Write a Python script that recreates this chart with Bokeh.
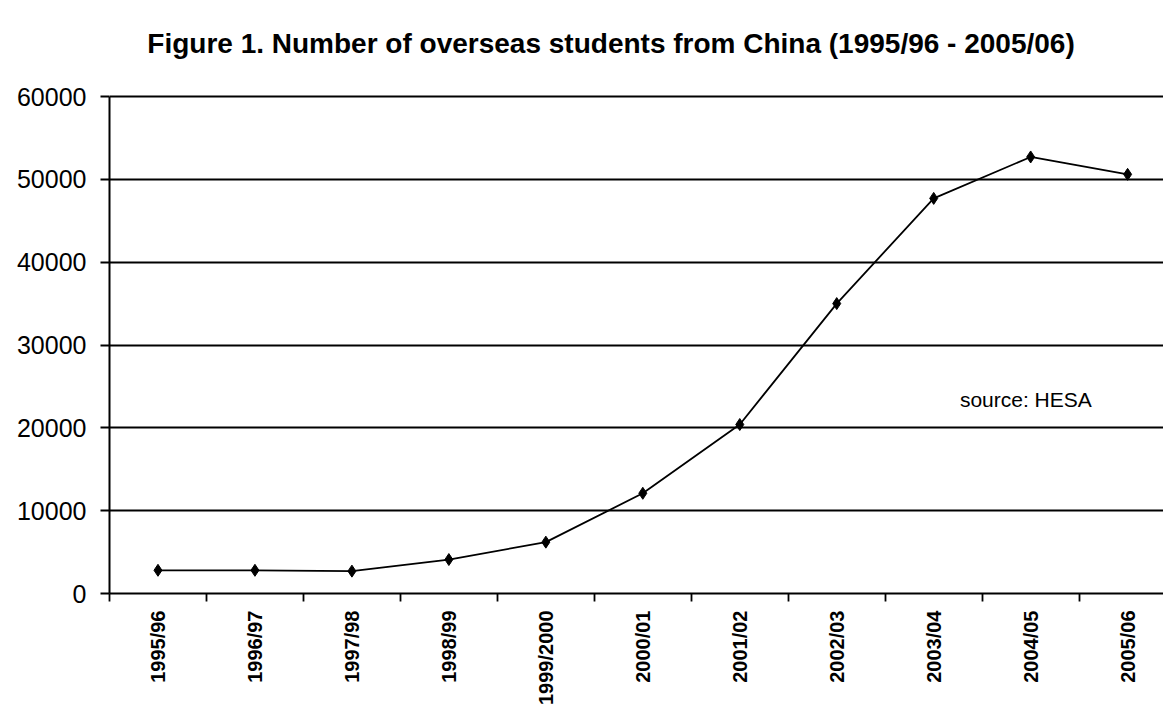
import math
from bokeh.plotting import figure
from bokeh.models import Range1d, FixedTicker, Label, NumeralTickFormatter
from bokeh.embed import file_html
from bokeh.resources import INLINE

years = ["1995/96", "1996/97", "1997/98", "1998/99", "1999/2000", "2000/01",
         "2001/02", "2002/03", "2003/04", "2004/05", "2005/06"]
students = [2800, 2800, 2700, 4100, 6200, 12100, 20400, 35000, 47700, 52700, 50600]
y_ticks = [0, 10000, 20000, 30000, 40000, 50000, 60000]
title_text = "Figure 1. Number of overseas students from China (1995/96 - 2005/06)"
source_text = "source: HESA"

idx = list(range(len(years)))
y_max = y_ticks[-1]

# frame extends above the top gridline to hold the title (no outline drawn)
p = figure(width=1163, height=713, output_backend="svg", toolbar_location=None,
           x_range=Range1d(-0.5, 10.37), y_range=Range1d(0, y_max * 583 / 497),
           min_border_left=109, min_border_right=0, min_border_top=10,
           min_border_bottom=120)
p.outline_line_color = None
p.background_fill_color = "white"
p.border_fill_color = "white"

# x axis: labels at category centres, tick marks between categories
xax = p.xaxis[0]
xax.ticker = FixedTicker(ticks=idx, minor_ticks=[i - 0.5 for i in range(len(years) + 1)])
xax.major_label_overrides = {i: years[i] for i in idx}
xax.major_label_orientation = math.pi / 2
xax.major_tick_in = 0
xax.major_tick_out = 0
xax.minor_tick_in = 0
xax.minor_tick_out = 8
xax.minor_tick_line_color = "black"
xax.minor_tick_line_width = 1.8
xax.axis_line_color = "black"
xax.axis_line_width = 2
xax.major_label_standoff = 9
xax.major_label_text_font = "Liberation Sans"
xax.major_label_text_font_style = "bold"
xax.major_label_text_font_size = "20px"
xax.major_label_text_color = "black"

yax = p.yaxis[0]
yax.bounds = (0, y_max)
yax.ticker = FixedTicker(ticks=y_ticks, minor_ticks=[])
yax.formatter = NumeralTickFormatter(format="0")
yax.major_tick_in = 0
yax.major_tick_out = 9
yax.major_tick_line_width = 1.8
yax.major_tick_line_color = "black"
yax.axis_line_color = "black"
yax.axis_line_width = 2
yax.major_label_standoff = 14
yax.major_label_text_font = "Liberation Sans"
yax.major_label_text_font_size = "25px"
yax.major_label_text_color = "black"

p.xgrid.visible = False
p.ygrid.grid_line_color = "black"
p.ygrid.grid_line_width = 2

p.line(idx, students, line_color="black", line_width=1.8)
p.scatter(idx, students, marker="diamond", size=12, color="black")

p.add_layout(Label(x=8.27, y=23450, text=source_text, text_font="Liberation Sans",
                   text_font_size="21px", text_baseline="middle", text_align="left",
                   text_color="black"))
p.add_layout(Label(x=-0.11, y=66400, text=title_text, text_font="Liberation Sans",
                   text_font_style="bold", text_font_size="28px",
                   text_baseline="alphabetic", text_align="left", text_color="black"))

open("out.html", "w").write(file_html(p, INLINE))
